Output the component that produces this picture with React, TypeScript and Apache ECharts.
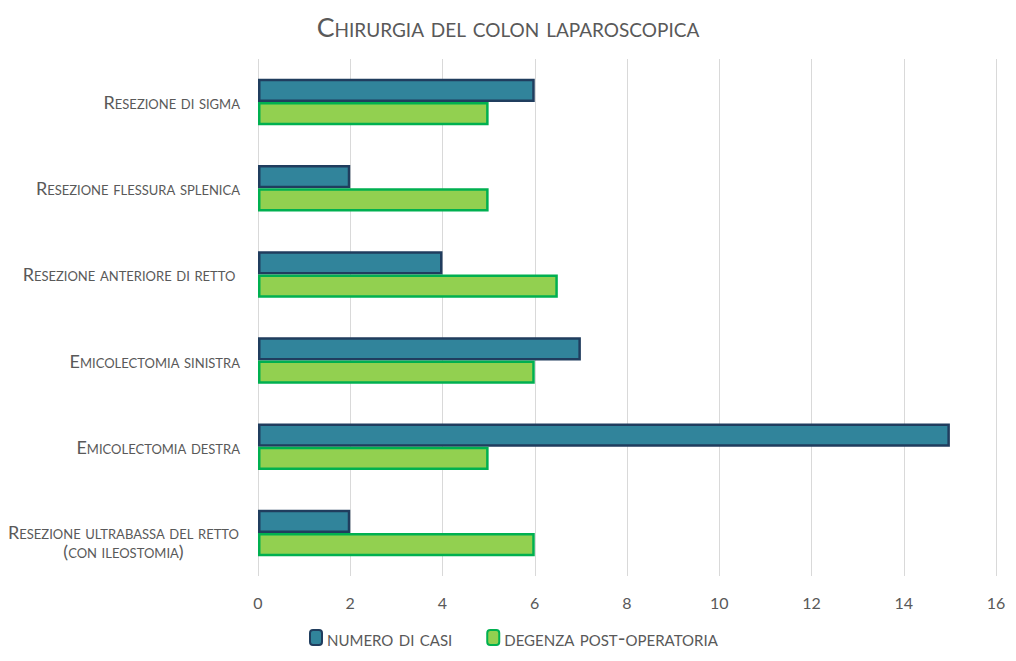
import React, { useEffect, useRef } from "react";
import * as echarts from "echarts";

const categories = [
  "Resezione di sigma",
  "Resezione flessura splenica",
  "Resezione anteriore di retto ",
  "Emicolectomia sinistra",
  "Emicolectomia destra",
  "Resezione ultrabassa del retto\n(con ileostomia)",
];
const numeroCasi = [6, 2, 4, 7, 15, 2];
const degenza = [5, 5, 6.5, 6, 5, 6];
const seriesNames = ["numero di casi", "degenza post-operatoria"];
const xTicks = { min: 0, max: 16, interval: 2 };

const FONT = "Lato, 'Open Sans', sans-serif";
const GREY = "#595959";

export default function App() {
  const ref = useRef<HTMLDivElement>(null);
  useEffect(() => {
    if (!ref.current) return;
    const chart = echarts.init(ref.current, null, { renderer: "svg" });
    const yData = categories.map((c) =>
      c.indexOf("\n") >= 0
        ? { value: c, textStyle: { padding: [17, 0, 0, 0] } }
        : c
    );
    chart.setOption({
      animation: false,
      backgroundColor: "#ffffff",
      title: {
        text: "Chirurgia del colon laparoscopica",
        left: "center",
        top: 8,
        textStyle: {
          fontFamily: FONT,
          fontStyle: "small-caps",
          fontWeight: "normal",
          fontSize: 26.7,
          color: GREY,
        },
      },
      legend: {
        bottom: 8,
        left: 304,
        itemWidth: 12,
        itemHeight: 15,
        itemGap: 34,
        textStyle: {
          fontFamily: FONT,
          fontStyle: "small-caps",
          fontSize: 21,
          color: GREY,
        },
        data: seriesNames,
      },
      grid: {
        left: 258,
        right: 20,
        top: 59,
        bottom: 85,
        containLabel: false,
        outerBoundsMode: "none",
      },
      xAxis: {
        type: "value",
        min: xTicks.min,
        max: xTicks.max,
        interval: xTicks.interval,
        axisLine: { show: false },
        axisTick: { show: false },
        splitLine: { lineStyle: { color: "#d9d9d9", width: 1 } },
        axisLabel: {
          fontFamily: FONT,
          fontSize: 16,
          color: GREY,
          margin: 18,
        },
      },
      yAxis: {
        type: "category",
        inverse: true,
        data: yData,
        axisLine: { show: false },
        axisTick: { show: false },
        axisLabel: {
          margin: 18,
          formatter: (v: string) => {
            if (v.indexOf("\n") < 0) return v;
            return v
              .split("\n")
              .map((l) => `{c|${l}}`)
              .join("\n");
          },
          fontFamily: FONT,
          fontStyle: "small-caps",
          fontSize: 18,
          color: GREY,
          lineHeight: 19,
          rich: {
            c: {
              width: 233,
              align: "center",
              fontFamily: FONT,
              fontStyle: "small-caps",
              fontSize: 18,
              color: GREY,
              lineHeight: 19,
            },
          },
        },
      },
      series: [
        {
          name: seriesNames[0],
          type: "bar",
          data: numeroCasi,
          barGap: "0%",
          barCategoryGap: "46%",
          itemStyle: {
            color: "#31849B",
            borderColor: "#203D5E",
            borderWidth: 2.5,
          },
        },
        {
          name: seriesNames[1],
          type: "bar",
          data: degenza,
          barGap: "0%",
          barCategoryGap: "46%",
          itemStyle: {
            color: "#92D050",
            borderColor: "#00B050",
            borderWidth: 2.5,
          },
        },
      ],
    });
    return () => chart.dispose();
  }, []);
  return (
    <>
      <style>{`.sc-chart text { font-variant: small-caps !important; }`}</style>
      <div
        ref={ref}
        className="sc-chart"
        style={{ width: 1016, height: 661, margin: -8 }}
      />
    </>
  );
}
